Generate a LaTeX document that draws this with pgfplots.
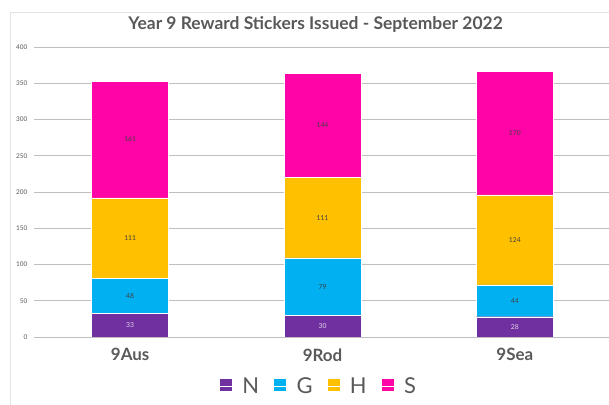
\documentclass[border=0pt]{standalone}
\usepackage{pgfplots}
\pgfplotsset{compat=1.18}
\usepackage{pgfplotstable}
\usepackage{fontspec}
\setmainfont{Lato}
\definecolor{cN}{HTML}{7030A0}
\definecolor{cG}{HTML}{00B0F0}
\definecolor{cH}{HTML}{FFC000}
\definecolor{cS}{HTML}{FF05A8}
\definecolor{txt}{HTML}{595959}
\definecolor{lbl}{HTML}{404040}
\definecolor{grid}{HTML}{E4E4E4}
\pgfplotstableread{
idx N G H S
0 33 48 111 161
1 30 79 111 144
2 28 44 124 170
}\data
\begin{document}
\begin{tikzpicture}
\path[use as bounding box] (-34bp,-68bp) rectangle (575bp,337bp);
\draw[grid, line width=0.8pt] (-24bp,-70bp) -- (-24bp,325bp) -- (580bp,325bp);
\begin{axis}[
  at={(0,0)}, anchor=south west,
  scale only axis, width=577bp, height=290bp,
  ymin=0, ymax=400, xmin=-0.5, xmax=2.5,
  ytick={0,50,...,400},
  xtick=data, xticklabels={9Aus,9Rod,9Sea},
  axis line style={draw=none},
  major tick length=0pt, tick style={draw=none},
  xmajorgrids=false, ymajorgrids, grid style={grid, line width=0.8pt},
  /pgf/number format/assume math mode=true,
  yticklabel style={font=\fontsize{6.5}{7}\selectfont, text=txt, xshift=-3bp},
  xticklabel style={font=\fontsize{17}{18}\selectfont\bfseries, text=txt, yshift=-8bp},
  ybar stacked, bar width=77bp,
  nodes near coords,
  every node near coord/.append style={font=\fontsize{6.8}{7}\selectfont, text=lbl, anchor=center},
  title={Year 9 Reward Stickers Issued - September 2022},
  title style={font=\fontsize{17.5}{18}\selectfont\bfseries, text=txt, yshift=5bp, xshift=-7bp},
  legend columns=4,
  legend style={at={(0.493,-0.125)}, anchor=north, draw=none, fill=none,
    font=\fontsize{22}{24}\selectfont, text=txt,
    /tikz/every even column/.append style={column sep=12bp}},
  legend image code/.code={\fill[#1] (0bp,-5.5bp) rectangle (13bp,7.5bp); \path (0bp,0bp) -- (21bp,0bp);},
]
\addplot[fill=cN, draw=white, line width=0.4pt, every node near coord/.append style={text=white!80!cN}] table[x=idx,y=N] {\data};
\addplot[fill=cG, draw=white, line width=0.4pt] table[x=idx,y=G] {\data};
\addplot[fill=cH, draw=white, line width=0.4pt] table[x=idx,y=H] {\data};
\addplot[fill=cS, draw=white, line width=0.4pt] table[x=idx,y=S] {\data};
\legend{N,G,H,S}
\end{axis}
\end{tikzpicture}
\end{document}
